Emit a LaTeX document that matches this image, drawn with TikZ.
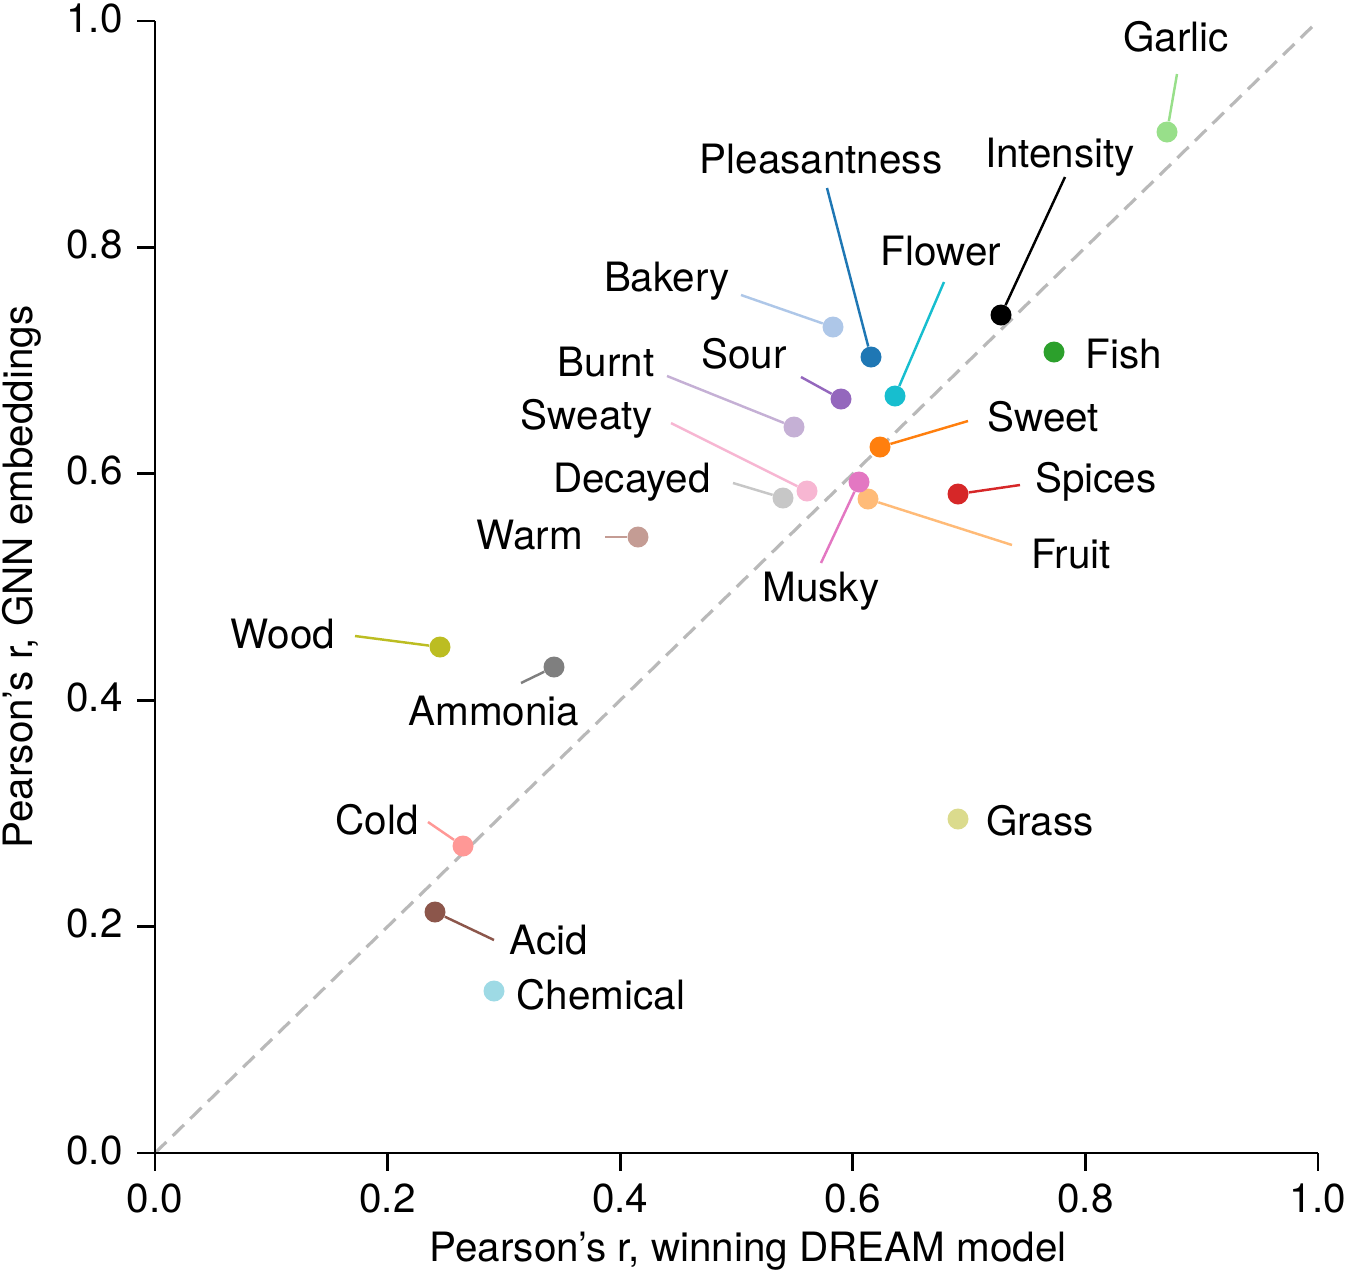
\documentclass[tikz,border=0pt]{standalone}
\usepackage{fontspec}
\setmainfont{TeX Gyre Heros}
\usetikzlibrary{positioning}
\definecolor{cGarlic}{RGB}{152,223,138}
\definecolor{cPleas}{RGB}{31,119,180}
\definecolor{cFlower}{RGB}{23,190,207}
\definecolor{cBakery}{RGB}{174,199,232}
\definecolor{cFish}{RGB}{44,160,44}
\definecolor{cSour}{RGB}{148,103,189}
\definecolor{cBurnt}{RGB}{197,176,213}
\definecolor{cSweet}{RGB}{255,127,14}
\definecolor{cSweaty}{RGB}{247,182,210}
\definecolor{cSpices}{RGB}{214,39,40}
\definecolor{cDecayed}{RGB}{199,199,199}
\definecolor{cMusky}{RGB}{227,119,194}
\definecolor{cFruit}{RGB}{255,187,120}
\definecolor{cWarm}{RGB}{196,156,148}
\definecolor{cWood}{RGB}{188,189,34}
\definecolor{cAmmonia}{RGB}{127,127,127}
\definecolor{cGrass}{RGB}{219,219,141}
\definecolor{cCold}{RGB}{255,152,150}
\definecolor{cAcid}{RGB}{140,86,75}
\definecolor{cChem}{RGB}{158,218,229}
\begin{document}
\begin{tikzpicture}[x=0.02cm, y=-0.02cm,
    dot/.style={circle, fill=#1, inner sep=0pt, minimum size=0.42cm},
    lbl/.style={font=\fontsize{23}{27}\selectfont, inner sep=0pt},
    tick/.style={font=\fontsize{23}{27}\selectfont, inner sep=0pt},
    lead/.style={line width=1.4pt, draw=#1}
]
    \useasboundingbox (0,0) rectangle (1347,1286);
    % Diagonal
    \draw[gray!55, line width=1.8pt, dash pattern=on 9pt off 5pt] (155,1153) -- (1318,21);
    % Axes
    \draw[line width=1.6pt] (155,21) -- (155,1153) -- (1318,1153);
    \foreach \v/\t in {0/0.0,1/0.2,2/0.4,3/0.6,4/0.8,5/1.0} {
        \draw[line width=1.6pt] (155,{1153-226.4*\v}) -- (137,{1153-226.4*\v});
        \node[tick, anchor=east] at (123,{1150-226.4*\v}) {\t};
        \draw[line width=1.6pt] ({155+232.6*\v},1153) -- ({155+232.6*\v},1171);
        \node[tick] at ({155+232.6*\v},1198) {\t};
    }
    \node[tick] (xlab) at (748,1251) {Pearson’s r, winning DREAM model};
    \node[tick, rotate=90] (ylab) at (22,577) {Pearson’s r, GNN embeddings};

    % Points
    \node[dot=cGarlic] (garlic) at (1167,132) {};
    \node[dot=black] (intensity) at (1001,315) {};
    \node[dot=cPleas] (pleas) at (871,357) {};
    \node[dot=cFlower] (flower) at (895,396) {};
    \node[dot=cBakery] (bakery) at (833,327) {};
    \node[dot=cFish] (fish) at (1054,352) {};
    \node[dot=cSour] (sour) at (841,399) {};
    \node[dot=cBurnt] (burnt) at (794,427) {};
    \node[dot=cSweet] (sweet) at (880,447) {};
    \node[dot=cSweaty] (sweaty) at (807,491) {};
    \node[dot=cSpices] (spices) at (958,494) {};
    \node[dot=cDecayed] (decayed) at (783,498) {};
    \node[dot=cFruit] (fruit) at (868,499) {};
    \node[dot=cMusky] (musky) at (859,482) {};
    \node[dot=cWarm] (warm) at (638,537) {};
    \node[dot=cWood] (wood) at (440,647) {};
    \node[dot=cAmmonia] (ammonia) at (554,667) {};
    \node[dot=cGrass] (grass) at (958,819) {};
    \node[dot=cCold] (cold) at (463,846) {};
    \node[dot=cAcid] (acid) at (435,912) {};
    \node[dot=cChem] (chem) at (494,991) {};

    % Labels
    \node[lbl] (lgarlic) at (1176,37) {Garlic};
    \node[lbl] (lintensity) at (1060,157) {Intensity};
    \node[lbl] (lpleas) at (821,159) {Pleasantness};
    \node[lbl] (lflower) at (941,251) {Flower};
    \node[lbl] (lbakery) at (667,281) {Bakery};
    \node[lbl] (lfish) at (1124,354) {Fish};
    \node[lbl] (lsour) at (744,354) {Sour};
    \node[lbl] (lburnt) at (606,362) {Burnt};
    \node[lbl] (lsweet) at (1043,417) {Sweet};
    \node[lbl] (lsweaty) at (587,419) {Sweaty};
    \node[lbl] (lspices) at (1096,482) {Spices};
    \node[lbl] (ldecayed) at (632,482) {Decayed};
    \node[lbl] (lmusky) at (821,591) {Musky};
    \node[lbl] (lfruit) at (1071,554) {Fruit};
    \node[lbl] (lwarm) at (530,535) {Warm};
    \node[lbl] (lwood) at (283,634) {Wood};
    \node[lbl] (lammonia) at (494,711) {Ammonia};
    \node[lbl] (lgrass) at (1040,821) {Grass};
    \node[lbl] (lcold) at (377,820) {Cold};
    \node[lbl] (lacid) at (549,940) {Acid};
    \node[lbl] (lchem) at (601,995) {Chemical};

    % Leader lines
    \coordinate (egarlic) at (1177,74);
    \coordinate (eintensity) at (1065,177);
    \coordinate (epleas) at (827,188);
    \coordinate (eflower) at (944,282);
    \coordinate (ebakery) at (741,295);
    \coordinate (esour) at (801,377);
    \coordinate (eburnt) at (667,376);
    \coordinate (esweet) at (968,421);
    \coordinate (esweaty) at (671,423);
    \coordinate (espices) at (1020,485);
    \coordinate (edecayed) at (733,483);
    \coordinate (emusky) at (821,563);
    \coordinate (efruit) at (1012,545);
    \coordinate (ewarm) at (605,537);
    \coordinate (ewood) at (355,636);
    \coordinate (eammonia) at (521,683);
    \coordinate (ecold) at (428,822);
    \coordinate (eacid) at (494,940);
    \draw[lead=cGarlic] (egarlic) -- (garlic);
    \draw[lead=black] (eintensity) -- (intensity);
    \draw[lead=cPleas] (epleas) -- (pleas);
    \draw[lead=cFlower] (eflower) -- (flower);
    \draw[lead=cBakery] (ebakery) -- (bakery);
    \draw[lead=cSour] (esour) -- (sour);
    \draw[lead=cBurnt] (eburnt) -- (burnt);
    \draw[lead=cSweet] (esweet) -- (sweet);
    \draw[lead=cSweaty] (esweaty) -- (sweaty);
    \draw[lead=cSpices] (espices) -- (spices);
    \draw[lead=cDecayed] (edecayed) -- (decayed);
    \draw[lead=cMusky] (emusky) -- (musky);
    \draw[lead=cFruit] (efruit) -- (fruit);
    \draw[lead=cWarm] (ewarm) -- (warm);
    \draw[lead=cWood] (ewood) -- (wood);
    \draw[lead=cAmmonia] (eammonia) -- (ammonia);
    \draw[lead=cCold] (ecold) -- (cold);
    \draw[lead=cAcid] (eacid) -- (acid);
\end{tikzpicture}
\end{document}
